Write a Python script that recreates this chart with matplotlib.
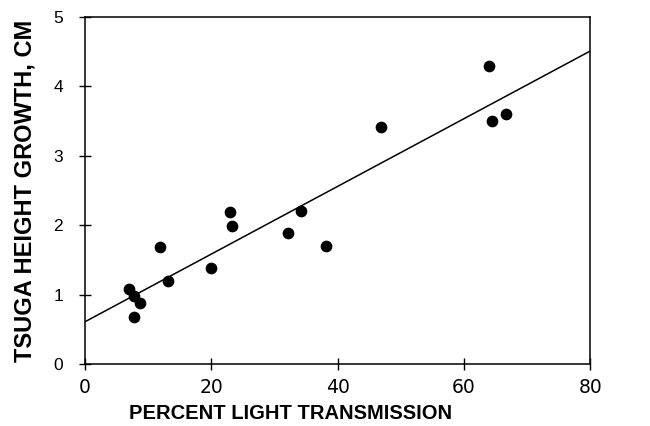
import matplotlib
matplotlib.use('Agg')
import matplotlib.pyplot as plt

# light transmission (%) and tsuga height growth (cm)
light = [7.0, 7.7, 8.7, 7.8, 11.9, 13.2, 20.0, 22.9, 23.2, 32.1, 34.2, 38.2, 46.8, 64.0, 64.4, 66.6]
growth = [1.08, 0.98, 0.88, 0.68, 1.69, 1.19, 1.39, 2.19, 1.99, 1.89, 2.20, 1.70, 3.41, 4.30, 3.50, 3.60]

# fitted line end points
fit_x = [0, 80]
fit_y = [0.61, 4.51]

xticks = [0, 20, 40, 60, 80]
yticks = [0, 1, 2, 3, 4, 5]

plt.rcParams['font.family'] = ['Liberation Sans', 'DejaVu Sans']

fig = plt.figure(figsize=(6.5, 4.26), dpi=100)
ax = fig.add_axes([0.131, 0.1455, 0.777, 0.8145])

ax.plot(fit_x, fit_y, color='black', linewidth=1.1)
ax.scatter(light, growth, s=55, color='black', zorder=3)

ax.set_xlim(0, 80)
ax.set_ylim(0, 5)
ax.set_xticks(xticks)
ax.set_yticks(yticks)
ax.tick_params(direction='inout', length=8, width=1)
ax.tick_params(axis='x', labelsize=13.5, pad=6)
ax.tick_params(axis='y', labelsize=12.5, pad=12)
for lab in ax.get_xticklabels():
    lab.set_fontfamily('DejaVu Sans')
for sp in ax.spines.values():
    sp.set_linewidth(1.1)

ax.set_xlabel('PERCENT LIGHT TRANSMISSION', fontsize=14.5, fontweight='bold', labelpad=8)
ax.xaxis.set_label_coords(0.406, -0.115)
ax.set_ylabel('TSUGA HEIGHT GROWTH, CM', fontsize=17, fontweight='bold', labelpad=12)

fig.savefig('out.png', dpi=100)
